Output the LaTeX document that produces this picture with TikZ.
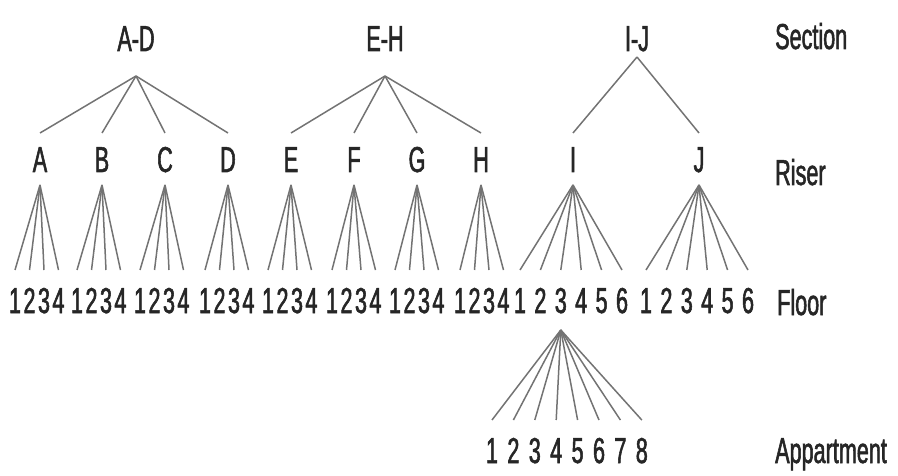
\documentclass[tikz,border=0pt]{standalone}
\usepackage{fontspec}
\setmainfont{Liberation Sans}[FakeStretch=0.6, FakeBold=1.5]
\usetikzlibrary{positioning}
\tikzset{
  lbl/.style={font=\fontsize{36}{40}\selectfont, text=black!85, inner sep=0pt, text height=26pt, text depth=0pt},
  sec/.style={lbl, outer ysep=25pt},
  riser/.style={lbl, outer ysep=13pt},
  flr/.style={lbl, outer ysep=17pt},
  apt/.style={lbl, outer ysep=17pt},
  level/.style={lbl, anchor=west},
  edge/.style={draw=black!55, line width=1.5pt},
}
\begin{document}
\begin{tikzpicture}[x=1pt,y=-1pt]
\useasboundingbox (0,0) rectangle (898,476);
% sections
\node[sec] (sAD) at (136,38) {A-D};
\node[sec] (sEH) at (385,38) {E-H};
\node[sec, outer ysep=6pt] (sIJ) at (637,38) {I-J};
% risers
\node[riser] (rA) at (40,159) {A};
\node[riser] (rB) at (102,159) {B};
\node[riser] (rC) at (165,159) {C};
\node[riser] (rD) at (228,159) {D};
\node[riser] (rE) at (291,159) {E};
\node[riser] (rF) at (354,159) {F};
\node[riser] (rG) at (417,159) {G};
\node[riser] (rH) at (481,159) {H};
\node[riser] (rI) at (573,159) {I};
\node[riser] (rJ) at (699,159) {J};
% level names
\node[level] (lSec) at (775,36) {Section};
\node[level] (lRis) at (775,172) {Riser};
\node[level] (lFlr) at (777,302) {Floor};
\node[level] (lApt) at (775,450) {Appartment};
% section -> riser
\draw[edge] (sAD.south) -- (rA.north);
\draw[edge] (sAD.south) -- (rB.north);
\draw[edge] (sAD.south) -- (rC.north);
\draw[edge] (sAD.south) -- (rD.north);
\draw[edge] (sEH.south) -- (rE.north);
\draw[edge] (sEH.south) -- (rF.north);
\draw[edge] (sEH.south) -- (rG.north);
\draw[edge] (sEH.south) -- (rH.north);
\draw[edge] (sIJ.south) -- (rI.north);
\draw[edge] (sIJ.south) -- (rJ.north);
% floors, four per riser
\foreach \g/\x in {A/15,B/77,C/140,D/205,E/268,F/332,G/395,H/460} {
  \foreach \i in {1,...,4} {
    \node[flr] (f\g\i) at ({\x+14.5*(\i-1)},300) {\i};
    \draw[edge] (r\g.south) -- (f\g\i.north);
  }
}
% floors, six per riser
\foreach \g/\x in {I/520,J/646} {
  \foreach \i in {1,...,6} {
    \node[flr] (f\g\i) at ({\x+20.4*(\i-1)},300) {\i};
    \draw[edge] (r\g.south) -- (f\g\i.north);
  }
}
% appartments of floor I-3
\foreach \i in {1,...,8} {
  \node[apt] (a\i) at ({492+21.4*(\i-1)},450) {\i};
  \draw[edge] (fI3.south) -- (a\i.north);
}
\end{tikzpicture}
\end{document}
